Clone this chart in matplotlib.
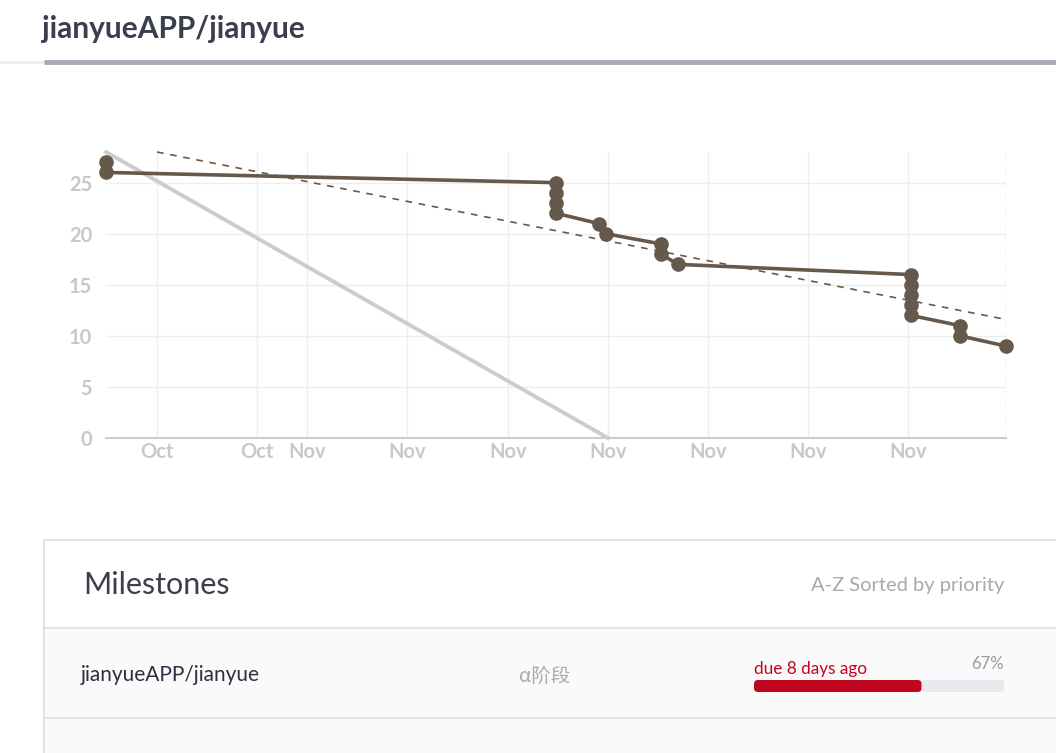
import matplotlib
matplotlib.use('Agg')
import matplotlib.pyplot as plt
from matplotlib.patches import Rectangle, FancyBboxPatch

# chart data (x in chart units, 0..18 across the plot)
actual_x = [0, 0, 9, 9, 9, 9, 9.85, 10.0, 11.1, 11.1, 11.44, 16.1, 16.1, 16.1, 16.1, 16.1, 17.08, 17.08, 18]
actual_y = [27, 26, 25, 24, 23, 22, 21, 20, 19, 18, 17, 16, 15, 14, 13, 12, 11, 10, 9]
ideal_x = [0, 10.04]
ideal_y = [28, 0]
trend_x = [1.02, 18]
trend_y = [28, 11.6]
tick_pos = [1.02, 3.02, 4.02, 6.02, 8.04, 10.04, 12.04, 14.04, 16.04]
tick_lab = ['Oct', 'Oct', 'Nov', 'Nov', 'Nov', 'Nov', 'Nov', 'Nov', 'Nov']
y_ticks = [0, 5, 10, 15, 20, 25]

W, H = 1056, 753
fig = plt.figure(figsize=(W / 100, H / 100), dpi=100)
fig.patch.set_facecolor('white')

# page elements drawn in pixel coords
pg = fig.add_axes([0, 0, 1, 1])
pg.set_xlim(0, W)
pg.set_ylim(H, 0)
pg.axis('off')

dark = '#3b3e4d'
pg.text(42, 29, 'jianyueAPP/jianyue', fontsize=21.5, fontweight='bold', color=dark,
        family='Lato', va='center', ha='left')
pg.plot([0, 44], [62, 62], color='#eeeeee', lw=2)
pg.plot([44, W], [62, 62], color='#a9a9b5', lw=3.5, solid_capstyle='butt')

# milestones panel
pg.add_patch(Rectangle((44, 628), W - 44, 90, facecolor='#fafafa', edgecolor='none'))
pg.add_patch(Rectangle((44, 718), W - 44, 40, facecolor='#fafafa', edgecolor='none'))
pg.plot([44, 44, W], [H, 540, 540], color='#dddddd', lw=1.2)
pg.plot([44, W], [628, 628], color='#dddddd', lw=1.2)
pg.plot([44, W], [718, 718], color='#dddddd', lw=1.2)
pg.text(83, 585, 'Milestones', fontsize=22, color=dark, family='Lato', va='center')
pg.text(1004, 586, 'A-Z Sorted by priority', fontsize=14.5, color='#a8a8b0', family='Lato',
        va='center', ha='right')
pg.text(81, 675, 'jianyueAPP/jianyue', fontsize=15, color='#2e3040', family='Lato', va='center')
pg.text(545, 676, 'α阶段', fontsize=14, color='#aaaaaa', family=['Noto Sans CJK SC', 'DejaVu Sans'],
        va='center', ha='center')
pg.text(754, 669, 'due 8 days ago', fontsize=12.4, color='#c0061f', family='Lato', va='center')
pg.text(1004, 664, '67%', fontsize=12, color='#9a9aa2', family='Lato', va='center', ha='right')
pg.add_patch(FancyBboxPatch((754, 680), 250, 12, boxstyle='round,pad=0,rounding_size=4',
                            facecolor='#e8e8ee', edgecolor='none'))
pg.add_patch(FancyBboxPatch((754, 680), 250 * 0.67, 12, boxstyle='round,pad=0,rounding_size=4',
                            facecolor='#c0061f', edgecolor='none'))

# burndown chart
ax = fig.add_axes([106 / W, (H - 438) / H, 900 / W, (438 - 152) / H])
ax.set_xlim(0, 18)
ax.set_ylim(0, 28)
for s in ['top', 'right', 'left']:
    ax.spines[s].set_visible(False)
ax.spines['bottom'].set_color('#cccccc')
ax.spines['bottom'].set_linewidth(1.5)
ax.set_yticks(y_ticks)
ax.set_xticks(tick_pos)
ax.set_xticklabels(tick_lab)
ax.tick_params(length=0, labelsize=14.5, labelcolor='#c8c8c8', pad=3)
ax.tick_params(axis='y', pad=10)
for lab in ax.get_xticklabels() + ax.get_yticklabels():
    lab.set_family('Lato')
    lab.set_fontweight('bold')
ax.grid(True, color='#eeeeee', lw=1)
ax.set_axisbelow(True)
ax.axvline(18, color='#cccccc', lw=1, ls=(0, (6, 4)))

ax.plot(ideal_x, ideal_y, color='#cccccc', lw=2.8, clip_on=False)
ax.plot(trend_x, trend_y, color='#66594c', lw=1.2, ls=(0, (4, 4)), clip_on=False)
ax.plot(actual_x, actual_y, color='#66594c', lw=2.6, marker='o', markersize=9.5, clip_on=False)

fig.savefig('out.png', dpi=100)
